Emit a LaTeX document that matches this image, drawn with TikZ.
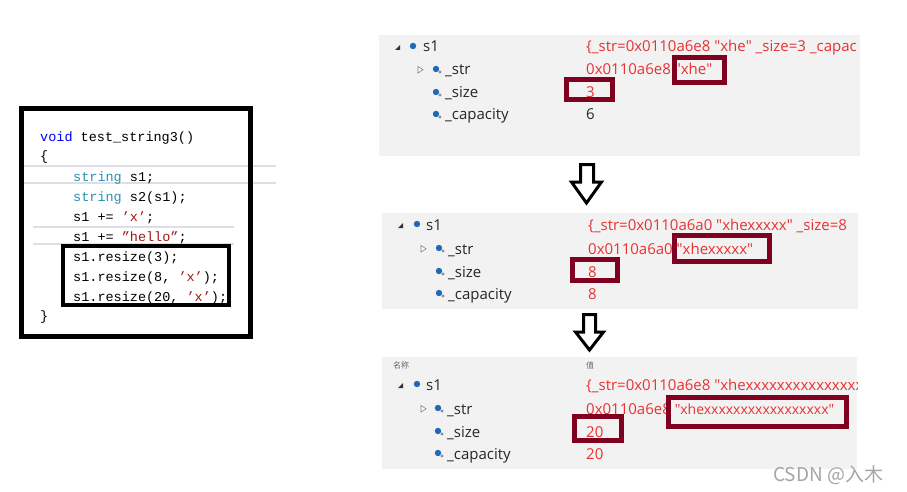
\documentclass[tikz,border=0pt]{standalone}
\usepackage{fontspec}
\setmainfont{Open Sans}
\newfontfamily\codefont{Liberation Mono}
\newfontfamily\cjkfont{Noto Sans CJK SC}
\definecolor{kwblue}{RGB}{0,0,255}
\definecolor{typeteal}{RGB}{43,145,175}
\definecolor{chrred}{RGB}{163,21,21}
\definecolor{valred}{RGB}{232,50,50}
\definecolor{boxred}{RGB}{128,0,32}
\definecolor{panelbg}{RGB}{242,242,242}
\definecolor{sepgrey}{RGB}{222,222,232}
\definecolor{wmgrey}{RGB}{165,165,165}
\definecolor{iconblue}{RGB}{30,105,185}
\newcommand\dq{\textquotedbl}
\begin{document}
\begin{tikzpicture}[x=1pt,y=-1pt,
  code/.style={anchor=base west, inner sep=0pt, font=\codefont\fontsize{13.5}{14}\selectfont},
  lbl/.style={anchor=base west, inner sep=0pt, font=\fontsize{15}{17}\selectfont, text=black!85},
  val/.style={lbl, text=valred},
  hdr/.style={anchor=west, inner sep=0pt, font=\cjkfont\fontsize{8}{9}\selectfont, text=black!60},
  hl/.style={draw=boxred, line width=5pt},
  panel/.style={fill=panelbg, draw=none},
  sepline/.style={draw=sepgrey, line width=2pt},
  hollowarrow/.style={draw=black, line width=3pt, fill=white, line join=miter},
  exptri/.style={fill=black!80, draw=none},
  coltri/.style={draw=black!50, line width=0.6pt, fill=white},
  objicon/.style={fill=iconblue, draw=none},
  subicon/.style={fill=black!45, draw=none}
]
\useasboundingbox (0,0) rectangle (907,492);
\fill[white] (0,0) rectangle (907,492);

% ---------- left code box ----------
\draw[sepline] (23,166) -- (276,166);
\draw[sepline] (23,183) -- (276,183);
\draw[sepline] (33,227) -- (234,227);
\draw[sepline] (33,244) -- (234,244);
\draw[line width=5pt] (21.5,108.5) rectangle (250.5,336.5);
\draw[line width=4pt] (63,246) rectangle (229,305);

\node[code] (c1) at (40,141) {\textcolor{kwblue}{void} test\_string3()};
\node[code] (c2) at (40,160) {\{};
\node[code] (c3) at (73,181) {\textcolor{typeteal}{string} s1;};
\node[code] (c4) at (73,201) {\textcolor{typeteal}{string} s2(s1);};
\node[code] (c5) at (73,221) {s1 += \textcolor{chrred}{’x’};};
\node[code] (c6) at (73,241) {s1 += \textcolor{chrred}{\textquotedblright hello\textquotedblright};};
\node[code] (c7) at (73,261) {s1.resize(3);};
\node[code] (c8) at (73,281) {s1.resize(8, \textcolor{chrred}{’x’});};
\node[code] (c9) at (73,301) {s1.resize(20, \textcolor{chrred}{’x’});};
\node[code] (c10) at (40,320) {\}};

% ---------- panel 1 ----------
\fill[panel] (379,35) rectangle (860,156);
\fill[exptri] (395,50) -- (400,50) -- (400,45) -- cycle;
\fill[objicon] (413,46) circle (3.2);
\node[lbl] (p1s1) at (423,52) {s1};
\draw[coltri] (418,66.5) -- (418,73) -- (423,69.75) -- cycle;
\fill[objicon] (436,69) circle (3.2); \fill[subicon] (440,72) circle (1.7);
\node[lbl] (p1str) at (445,75) {\_str};
\fill[objicon] (436,92) circle (3.2); \fill[subicon] (440,95) circle (1.7);
\node[lbl] (p1size) at (445,98) {\_size};
\fill[objicon] (436,114) circle (3.2); \fill[subicon] (440,117) circle (1.7);
\node[lbl] (p1cap) at (445,120) {\_capacity};
\begin{scope}
\clip (379,35) rectangle (860,156);
\node[val] (p1v1) at (586,52) {\{\_str=0x0110a6e8 \dq xhe\dq\ \_size=3 \_capac};
\end{scope}
\node[val] (p1v2) at (586,75) {0x0110a6e8 \dq xhe\dq};
\node[val] (p1v3) at (586,98) {3};
\node[lbl] (p1v4) at (586,120) {6};
\draw[hl] (674.5,57.5) rectangle (724.5,82.5);
\draw[hl] (566.5,79.5) rectangle (612.5,99.5);

% ---------- arrow 1 ----------
\draw[hollowarrow] (580.5,164.5) -- (593.5,164.5) -- (593.5,182) -- (601.5,182) -- (586.5,203) -- (571.5,182) -- (580.5,182) -- cycle;

% ---------- panel 2 ----------
\fill[panel] (382,213) rectangle (858,309);
\fill[exptri] (398,228) -- (403,228) -- (403,223) -- cycle;
\fill[objicon] (417,224) circle (3.2);
\node[lbl] (p2s1) at (426,230) {s1};
\draw[coltri] (421,245.5) -- (421,252) -- (426,248.75) -- cycle;
\fill[objicon] (439,248) circle (3.2); \fill[subicon] (443,251) circle (1.7);
\node[lbl] (p2str) at (448,254) {\_str};
\fill[objicon] (439,271) circle (3.2); \fill[subicon] (443,274) circle (1.7);
\node[lbl] (p2size) at (448,277) {\_size};
\fill[objicon] (439,293) circle (3.2); \fill[subicon] (443,296) circle (1.7);
\node[lbl] (p2cap) at (448,299) {\_capacity};
\begin{scope}
\clip (382,213) rectangle (858,309);
\node[val] (p2v1) at (588,230) {\{\_str=0x0110a6a0 \dq xhexxxxx\dq\ \_size=8};
\end{scope}
\node[val] (p2v2) at (588,254) {0x0110a6a0 \dq xhexxxxx\dq};
\node[val] (p2v3) at (588,277) {8};
\node[val] (p2v4) at (588,299) {8};
\draw[hl] (674.5,235.5) rectangle (769.5,261.5);
\draw[hl] (572.5,259.5) rectangle (617.5,280.5);

% ---------- arrow 2 ----------
\draw[hollowarrow] (583.5,314.5) -- (595.5,314.5) -- (595.5,332) -- (603.5,332) -- (589.5,350) -- (575.5,332) -- (583.5,332) -- cycle;

% ---------- panel 3 ----------
\fill[panel] (382,357) rectangle (857,469);
\node[hdr] (h1) at (393,365) {名称};
\node[hdr] (h2) at (586,365) {值};
\fill[exptri] (398,388) -- (403,388) -- (403,383) -- cycle;
\fill[objicon] (417,384) circle (3.2);
\node[lbl] (p3s1) at (426,390) {s1};
\draw[coltri] (421,405.5) -- (421,412) -- (426,408.75) -- cycle;
\fill[objicon] (438,408) circle (3.2); \fill[subicon] (442,411) circle (1.7);
\node[lbl] (p3str) at (447,414) {\_str};
\fill[objicon] (438,431) circle (3.2); \fill[subicon] (442,434) circle (1.7);
\node[lbl] (p3size) at (447,437) {\_size};
\fill[objicon] (438,453) circle (3.2); \fill[subicon] (442,456) circle (1.7);
\node[lbl] (p3cap) at (447,459) {\_capacity};
\begin{scope}
\clip (382,357) rectangle (857,469);
\node[val] (p3v1) at (586,390) {\{\_str=0x0110a6e8 \dq xhexxxxxxxxxxxxxxx};
\end{scope}
\node[val] (p3v2) at (586,414) {0x0110a6e8 {\fontsize{14}{16}\selectfont\dq{}xhe{}xxxxx{}xxxxx{}xxxxx{}xx\dq}};
\node[val] (p3v3) at (586,437) {20};
\node[val] (p3v4) at (586,459) {20};
\draw[hl] (668.5,397.5) rectangle (846.5,426.5);
\draw[hl] (574.5,416.5) rectangle (621.5,440.5);

% ---------- watermark ----------
\node[anchor=west, inner sep=0pt, font=\cjkfont\fontsize{19}{21}\selectfont, text=wmgrey] (wm) at (773,475) {CSDN @入木};
\end{tikzpicture}
\end{document}
